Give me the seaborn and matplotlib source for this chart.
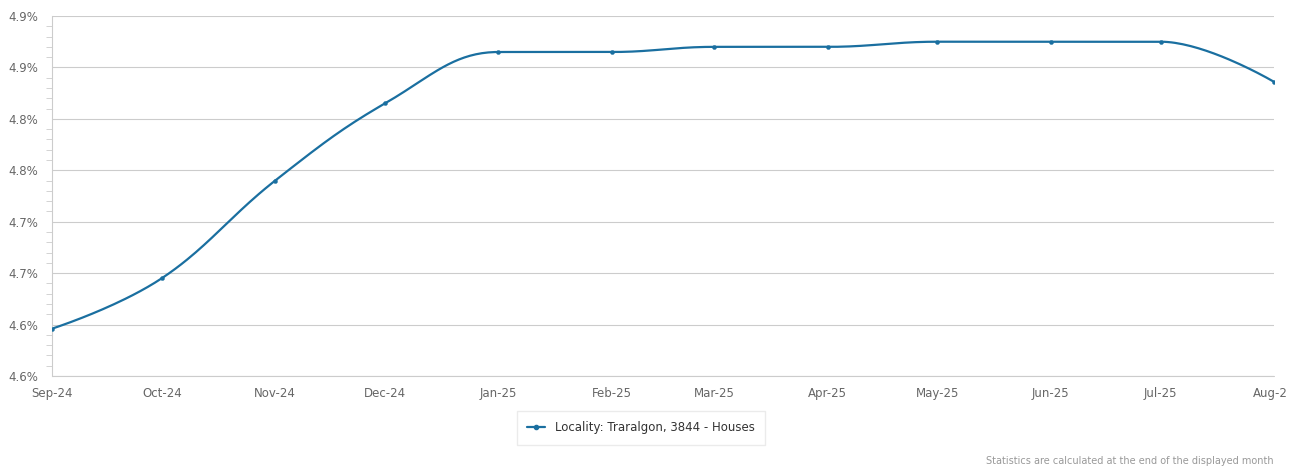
import pandas as pd
import numpy as np
import seaborn as sns
import matplotlib.pyplot as plt
import matplotlib.dates as mdates
from matplotlib.lines import Line2D
from matplotlib.transforms import Bbox, TransformedBbox

# data
months = ["2024-09-01", "2024-10-01", "2024-11-01", "2024-12-01", "2025-01-01", "2025-02-01",
          "2025-03-01", "2025-04-01", "2025-05-01", "2025-06-01", "2025-07-01", "2025-08-01"]
month_labels = ["Sep-24", "Oct-24", "Nov-24", "Dec-24", "Jan-25", "Feb-25",
                "Mar-25", "Apr-25", "May-25", "Jun-25", "Jul-25", "Aug-25"]
values = [4.596, 4.645, 4.740, 4.815, 4.865, 4.865, 4.870, 4.870, 4.875, 4.875, 4.875, 4.836]
y_ticks = [4.55, 4.60, 4.65, 4.70, 4.75, 4.80, 4.85, 4.90]
y_labels = ["4.6%", "4.6%", "4.7%", "4.7%", "4.8%", "4.8%", "4.9%", "4.9%"]
series_name = "Locality: Traralgon, 3844 - Houses"

df = pd.DataFrame({"date": pd.to_datetime(months), "value": values})
df["x"] = mdates.date2num(df["date"])

#%%
# highcharts style spline through the points
def spline(xs, ys, smoothing=1.5, steps=40):
    n = len(xs)
    denom = smoothing + 1
    left = [(xs[i], ys[i]) for i in range(n)]
    right = [(xs[i], ys[i]) for i in range(n)]
    for i in range(1, n - 1):
        px, py = xs[i], ys[i]
        lx, ly = xs[i - 1], ys[i - 1]
        nx, ny = xs[i + 1], ys[i + 1]
        lcx = (smoothing * px + lx) / denom
        lcy = (smoothing * py + ly) / denom
        rcx = (smoothing * px + nx) / denom
        rcy = (smoothing * py + ny) / denom
        if rcx != lcx:
            corr = (rcy - lcy) * (rcx - px) / (rcx - lcx) + py - rcy
            lcy += corr
            rcy += corr
        if lcy > max(ly, py):
            lcy = max(ly, py); rcy = 2 * py - lcy
        elif lcy < min(ly, py):
            lcy = min(ly, py); rcy = 2 * py - lcy
        if rcy > max(py, ny):
            rcy = max(py, ny); lcy = 2 * py - rcy
        elif rcy < min(py, ny):
            rcy = min(py, ny); lcy = 2 * py - rcy
        left[i] = (lcx, lcy)
        right[i] = (rcx, rcy)
    out_x, out_y = [], []
    t = np.linspace(0, 1, steps)
    for i in range(n - 1):
        p0 = (xs[i], ys[i]); p1 = right[i]; p2 = left[i + 1]; p3 = (xs[i + 1], ys[i + 1])
        bx = (1-t)**3*p0[0] + 3*(1-t)**2*t*p1[0] + 3*(1-t)*t**2*p2[0] + t**3*p3[0]
        by = (1-t)**3*p0[1] + 3*(1-t)**2*t*p1[1] + 3*(1-t)*t**2*p2[1] + t**3*p3[1]
        out_x.extend(bx); out_y.extend(by)
    return np.array(out_x), np.array(out_y)

sx, sy = spline(list(df["x"]), list(df["value"]))
smooth = pd.DataFrame({"x": sx, "value": sy})

#%%
sns.set_theme(style="white")
plt.rcParams['font.family'] = ['DejaVu Sans']
color = "#1a6fa0"

fig = plt.figure(figsize=(12.99, 4.70), dpi=100)
ax = fig.add_axes([52 / 1299, 1 - 376 / 470, (1274 - 52) / 1299, (376 - 16) / 470])

sns.lineplot(data=smooth, x="x", y="value", ax=ax, color=color, linewidth=1.6, sort=False)
sns.scatterplot(data=df, x="x", y="value", ax=ax, color=color, s=9, edgecolor=color, zorder=5)

ax.set_xlim(df["x"].iloc[0], df["x"].iloc[-1])
ax.set_ylim(y_ticks[0], y_ticks[-1])
ax.set_xticks(df["x"])
ax.set_xticklabels(month_labels, color="#666666", fontsize=8.5)
ax.set_yticks(y_ticks)
ax.set_yticklabels(y_labels, color="#666666", fontsize=8.5)
ax.set_yticks(np.arange(4.55, 4.9001, 0.01), minor=True)
ax.set_xlabel("")
ax.set_ylabel("")
ax.grid(axis="y", color="#cccccc", linewidth=0.8)
ax.axhline(y_ticks[0], color="#cccccc", linewidth=0.8, clip_on=False, zorder=0)
ax.set_axisbelow(True)
for s in ["top", "right", "bottom"]:
    ax.spines[s].set_visible(False)
ax.spines["left"].set_color("#cccccc")
ax.spines["left"].set_linewidth(0.8)
ax.tick_params(axis="y", which="major", length=8, color="#cccccc", width=0.8, pad=2)
ax.tick_params(axis="y", which="minor", left=True, length=4, color="#cccccc", width=0.6)
ax.tick_params(axis="x", length=7, color="#ccd6eb", width=0.8, pad=1)

# last month label is cut off at the right edge in the original
clip = TransformedBbox(Bbox([[0, 0], [1287 / 1299, 1]]), fig.transFigure)
for lbl in ax.get_xticklabels():
    lbl.set_clip_on(True)
    lbl.set_clip_box(clip)

handle = Line2D([], [], color=color, linewidth=1.6, marker="o", markersize=3)
leg = fig.legend([handle], [series_name], loc="center", bbox_to_anchor=(641 / 1299, 1 - 428 / 470),
                 frameon=True, fontsize=8.5, handlelength=1.5, borderpad=0.9, fancybox=False)
leg.get_frame().set_edgecolor("#e6e6e6")
for t in leg.get_texts():
    t.set_color("#333333")

fig.text(1274 / 1299, 1 - 461 / 470, "Statistics are calculated at the end of the displayed month",
         ha="right", va="center", fontsize=7, color="#999999")

fig.savefig("out.png", dpi=100)
